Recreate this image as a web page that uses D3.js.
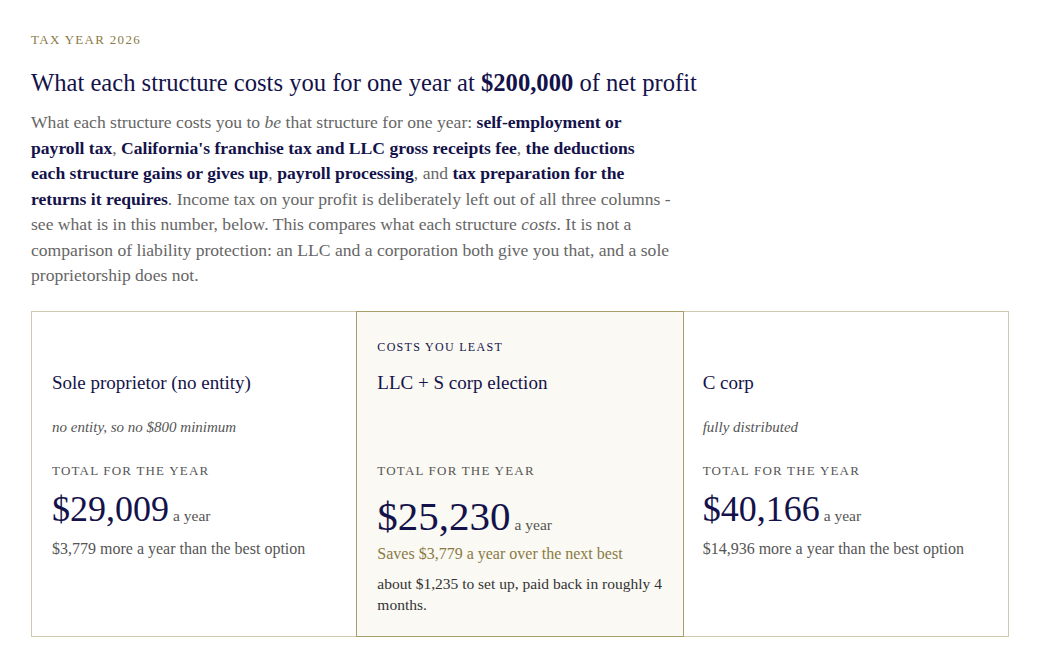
<!doctype html>
<html lang="en">
<head>
<meta charset="utf-8">
<title>Structure costs</title>
<script src="https://cdnjs.cloudflare.com/ajax/libs/d3/7.8.5/d3.min.js"></script>
<style>
  body { margin: 0; background: #fff; font-family: "Liberation Serif", "DejaVu Serif", serif; color: #14124a; }
  #wrap { position: absolute; left: 31px; top: 0; width: 978px; }
  .kicker { position: absolute; top: 32px; font-size: 13px; letter-spacing: 1.3px; color: #8a7a45; }
  h1 { position: absolute; top: 69px; margin: 0; font-weight: normal; font-size: 24.6px; white-space: nowrap; }
  h1 b { font-weight: bold; }
  .lede { position: absolute; top: 110px; width: 640px; margin: 0; font-size: 17.6px; line-height: 25.5px; color: #666; }
  .lede b { color: #14124a; }
  #cards { position: absolute; top: 311px; left: 0; width: 976px; height: 324px; border: 1px solid #cfcab0; display: flex; }
  .card { position: relative; flex: 1; box-sizing: border-box; padding-left: 20px; }
  .card.best { background: #faf9f3; outline: 1px solid #a89c6a; }
  .tag { position: absolute; top: 28px; font-size: 12px; letter-spacing: 1.3px; color: #14124a; }
  .name { position: absolute; top: 60px; font-size: 19px; }
  .note { position: absolute; top: 107px; font-size: 15px; font-style: italic; color: #555; }
  .lbl { position: absolute; top: 151px; font-size: 13px; letter-spacing: 1.2px; color: #555; }
  .total { position: absolute; top: 176px; white-space: nowrap; }
  .total .big { font-size: 36px; color: #14124a; }
  .total .yr { font-size: 15.5px; color: #555; }
  .diff { position: absolute; top: 228px; font-size: 16px; color: #555; }
  .diff.save { top: 233px; color: #8a7a45; }
  .setup { position: absolute; top: 261px; width: 290px; font-size: 15.5px; line-height: 21px; color: #333; }
</style>
</head>
<body>
<div id="wrap"></div>
<script>
const names = ["Sole proprietor (no entity)", "LLC + S corp election", "C corp"];
const tags = ["", "COSTS YOU LEAST", ""];
const notes = ["no entity, so no $800 minimum", "", "fully distributed"];
const totals = [29009, 25230, 40166];
const setupCost = 1235;
const paybackMonths = 4;

const fmt = d3.format("$,");
const best = d3.min(totals);
const nextBest = d3.min(totals.filter(t => t !== best));

const wrap = d3.select("#wrap");
wrap.append("div").attr("class", "kicker").text("TAX YEAR 2026");
wrap.append("h1").html("What each structure costs you for one year at <b>$200,000</b> of net profit");
wrap.append("p").attr("class", "lede").html(
  "What each structure costs you to <i>be</i> that structure for one year: <b>self-employment or payroll tax</b>, " +
  "<b>California's franchise tax and LLC gross receipts fee</b>, <b>the deductions each structure gains or gives up</b>, " +
  "<b>payroll processing</b>, and <b>tax preparation for the returns it requires</b>. Income tax on your profit is " +
  "deliberately left out of all three columns - see what is in this number, below. This compares what each structure " +
  "<i>costs</i>. It is not a comparison of liability protection: an LLC and a corporation both give you that, and a " +
  "sole proprietorship does not.");

const cards = wrap.append("div").attr("id", "cards")
  .selectAll("div").data(totals).join("div")
  .attr("class", d => d === best ? "card best" : "card");

cards.append("div").attr("class", "tag").text((d, i) => tags[i]);
cards.append("div").attr("class", "name").text((d, i) => names[i]);
cards.append("div").attr("class", "note").text((d, i) => notes[i]);
cards.append("div").attr("class", "lbl").text("TOTAL FOR THE YEAR");
cards.append("div").attr("class", "total")
  .style("top", d => d === best ? "180px" : "176px")
  .html(d => `<span class="big"${d === best ? ' style="font-size:41px"' : ''}>${fmt(d)}</span> <span class="yr">a year</span>`);
cards.append("div").attr("class", d => d === best ? "diff save" : "diff")
  .text(d => d === best
    ? `Saves ${fmt(nextBest - best)} a year over the next best`
    : `${fmt(d - best)} more a year than the best option`);
cards.filter(d => d === best).append("div").attr("class", "setup")
  .text(`about ${fmt(setupCost)} to set up, paid back in roughly ${paybackMonths} months.`);
</script>
</body>
</html>
